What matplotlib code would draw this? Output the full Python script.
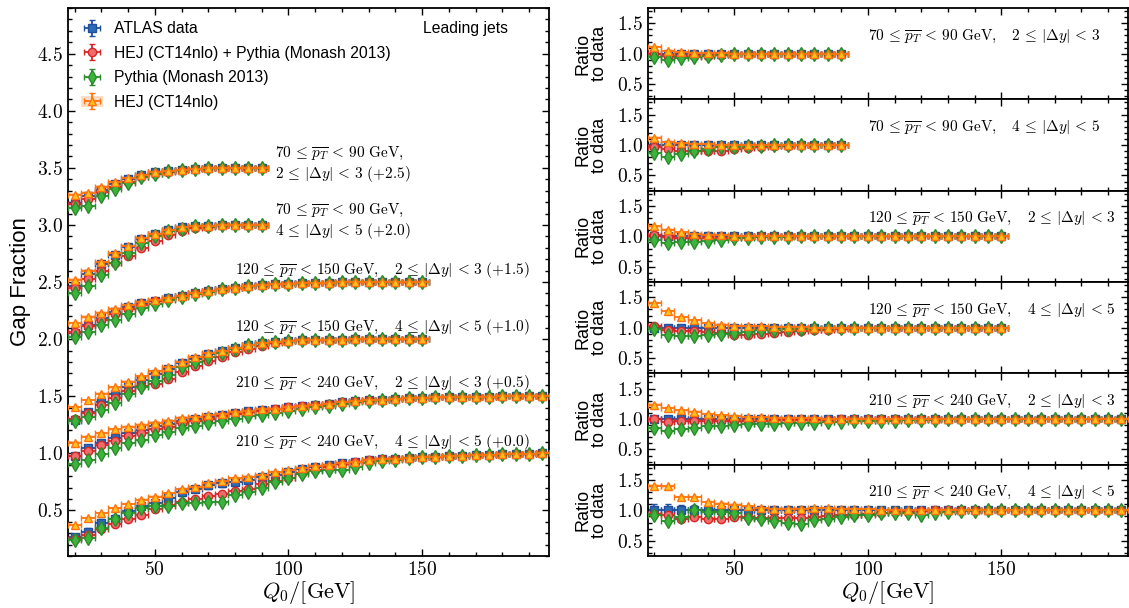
import numpy as np
import matplotlib.pyplot as plt
from matplotlib.ticker import MultipleLocator, FuncFormatter
from matplotlib.patches import Patch

plt.rcParams['font.family'] = ['Liberation Sans', 'DejaVu Sans']
plt.rcParams['mathtext.fontset'] = 'cm'

# Q0 bin centres (bins are 5 GeV wide)
q0_bins = [20, 25, 30, 35, 40, 45, 50, 55, 60, 65, 70, 75, 80, 85, 90, 95, 100, 105,
           110, 115, 120, 125, 130, 135, 140, 145, 150, 155, 160, 165, 170, 175, 180,
           185, 190, 195]

# region 1: 70-90 GeV, 2<|dy|<3 (+2.5)
gf1 = [0.69, 0.75, 0.81, 0.86, 0.90, 0.935, 0.96, 0.975, 0.985, 0.99, 0.995, 0.997, 0.998, 0.999, 1.0]
err1 = [0.03, 0.025, 0.02, 0.02, 0.015, 0.015, 0.01, 0.01, 0.01, 0.01, 0.005, 0.005, 0.005, 0.005, 0.005]
hejpy1 = [0.99, 0.97, 0.97, 0.97, 0.97, 0.98, 0.99, 0.99, 1.0, 1.0, 1.0, 1.0, 1.0, 1.0, 1.0]
py1 = [0.945, 0.89, 0.93, 0.945, 0.965, 0.98, 0.99, 0.995, 1.0, 1.0, 1.0, 1.0, 1.0, 1.0, 1.0]
hej1 = [1.11, 1.045, 1.03, 1.015, 1.01, 1.005, 1.0, 1.0, 1.0, 1.0, 1.0, 1.0, 1.0, 1.0, 1.0]

# region 2: 70-90 GeV, 4<|dy|<5 (+2.0)
gf2 = [0.465, 0.57, 0.655, 0.737, 0.81, 0.88, 0.925, 0.96, 0.978, 0.99, 0.995, 0.997, 0.998, 0.999, 1.0]
err2 = [0.05, 0.04, 0.03, 0.025, 0.02, 0.015, 0.015, 0.01, 0.01, 0.01, 0.005, 0.005, 0.005, 0.005, 0.005]
hejpy2 = [0.96, 0.93, 0.91, 0.90, 0.90, 0.91, 0.93, 0.95, 0.97, 0.98, 0.99, 1.0, 1.0, 1.0, 1.0]
py2 = [0.87, 0.81, 0.86, 0.90, 0.93, 0.96, 0.975, 0.985, 0.99, 1.0, 1.0, 1.0, 1.0, 1.0, 1.0]
hej2 = [1.12, 1.05, 1.03, 1.02, 1.01, 1.005, 1.0, 1.0, 1.0, 1.0, 1.0, 1.0, 1.0, 1.0, 1.0]

# region 3: 120-150 GeV, 2<|dy|<3 (+1.5)
gf3 = [0.55, 0.625, 0.685, 0.735, 0.78, 0.813, 0.838, 0.857, 0.88, 0.90, 0.918, 0.935, 0.952, 0.964,
       0.975, 0.982, 0.987, 0.99, 0.993, 0.995, 0.996, 0.997, 0.998, 0.999, 0.999, 1.0, 1.0]
err3 = [0.04, 0.03, 0.03, 0.02, 0.02, 0.015, 0.015, 0.01, 0.01, 0.01, 0.01, 0.01, 0.005, 0.005,
        0.005, 0.005, 0.005, 0.005, 0.005, 0.005, 0.005, 0.005, 0.005, 0.005, 0.005, 0.005, 0.005]
hejpy3 = [1.03, 0.99, 0.98, 0.98, 0.98, 0.98, 0.99, 0.99, 1.0, 1.0, 1.0, 1.0, 1.0, 1.0,
          1.0, 1.0, 1.0, 1.0, 1.0, 1.0, 1.0, 1.0, 1.0, 1.0, 1.0, 1.0, 1.0]
py3 = [0.945, 0.895, 0.906, 0.912, 0.923, 0.945, 0.967, 0.978, 0.985, 0.99, 0.995, 1.0, 1.0, 1.0,
       1.0, 1.0, 1.0, 1.0, 1.0, 1.0, 1.0, 1.0, 1.0, 1.0, 1.0, 1.0, 1.0]
hej3 = [1.165, 1.11, 1.066, 1.044, 1.027, 1.016, 1.01, 1.005, 1.0, 1.0, 1.0, 1.0, 1.0, 1.0,
        1.0, 1.0, 1.0, 1.0, 1.0, 1.0, 1.0, 1.0, 1.0, 1.0, 1.0, 1.0, 1.0]

# region 4: 120-150 GeV, 4<|dy|<5 (+1.0)
gf4 = [0.29, 0.365, 0.445, 0.515, 0.583, 0.642, 0.694, 0.74, 0.788, 0.828, 0.866, 0.895, 0.925, 0.946,
       0.963, 0.974, 0.982, 0.988, 0.991, 0.994, 0.996, 0.997, 0.998, 0.999, 0.999, 1.0, 1.0]
err4 = [0.05, 0.04, 0.035, 0.03, 0.025, 0.02, 0.02, 0.015, 0.015, 0.01, 0.01, 0.01, 0.01, 0.005,
        0.005, 0.005, 0.005, 0.005, 0.005, 0.005, 0.005, 0.005, 0.005, 0.005, 0.005, 0.005, 0.005]
hejpy4 = [1.03, 0.97, 0.95, 0.94, 0.93, 0.92, 0.875, 0.88, 0.90, 0.92, 0.93, 0.94, 0.96, 0.97,
          0.98, 0.99, 1.0, 1.0, 1.0, 1.0, 1.0, 1.0, 1.0, 1.0, 1.0, 1.0, 1.0]
py4 = [0.98, 0.875, 0.86, 0.86, 0.885, 0.90, 0.91, 0.93, 0.955, 0.965, 0.975, 0.98, 0.99, 1.0,
       1.0, 1.0, 1.0, 1.0, 1.0, 1.0, 1.0, 1.0, 1.0, 1.0, 1.0, 1.0, 1.0]
hej4 = [1.41, 1.275, 1.176, 1.12, 1.077, 1.05, 1.033, 1.027, 1.02, 1.016, 1.01, 1.005, 1.0, 1.0,
        1.0, 1.0, 1.0, 1.0, 1.0, 1.0, 1.0, 1.0, 1.0, 1.0, 1.0, 1.0, 1.0]

# region 5: 210-240 GeV, 2<|dy|<3 (+0.5)
gf5 = [0.48, 0.545, 0.592, 0.633, 0.675, 0.705, 0.735, 0.757, 0.785, 0.80, 0.82, 0.836, 0.852, 0.866,
       0.879, 0.89, 0.905, 0.915, 0.926, 0.935, 0.946, 0.955, 0.963, 0.97, 0.976, 0.981, 0.985, 0.989,
       0.992, 0.994, 0.996, 0.997, 0.998, 0.999, 1.0, 1.0]
err5 = [0.04, 0.035, 0.03, 0.03, 0.025, 0.02, 0.02, 0.02, 0.015, 0.015, 0.015, 0.01, 0.01, 0.01,
        0.01, 0.01, 0.01, 0.01, 0.005, 0.005, 0.005, 0.005, 0.005, 0.005, 0.005, 0.005, 0.005, 0.005,
        0.005, 0.005, 0.005, 0.005, 0.005, 0.005, 0.005, 0.005]
hejpy5 = [1.0, 0.95, 0.96, 0.96, 0.96, 0.96, 0.97, 0.97, 0.975, 0.98, 0.98, 0.985, 0.99, 0.99,
          0.995, 1.0, 1.0, 1.0, 1.0, 1.0, 1.0, 1.0, 1.0, 1.0, 1.0, 1.0, 1.0, 1.0,
          1.0, 1.0, 1.0, 1.0, 1.0, 1.0, 1.0, 1.0]
py5 = [0.85, 0.81, 0.84, 0.86, 0.88, 0.88, 0.90, 0.91, 0.92, 0.92, 0.93, 0.935, 0.94, 0.95,
       0.955, 0.96, 0.965, 0.97, 0.975, 0.98, 0.985, 0.99, 0.995, 1.0, 1.0, 1.0, 1.0, 1.0,
       1.0, 1.0, 1.0, 1.0, 1.0, 1.0, 1.0, 1.0]
hej5 = [1.237, 1.18, 1.143, 1.12, 1.083, 1.06, 1.044, 1.033, 1.027, 1.022, 1.016, 1.012, 1.01, 1.005,
        1.005, 1.0, 1.0, 1.0, 1.0, 1.0, 1.0, 1.0, 1.0, 1.0, 1.0, 1.0, 1.0, 1.0,
        1.0, 1.0, 1.0, 1.0, 1.0, 1.0, 1.0, 1.0]

# region 6: 210-240 GeV, 4<|dy|<5 (+0.0)
gf6 = [0.265, 0.312, 0.39, 0.425, 0.49, 0.535, 0.567, 0.61, 0.658, 0.688, 0.718, 0.738, 0.75, 0.765,
       0.79, 0.81, 0.838, 0.86, 0.88, 0.9, 0.915, 0.925, 0.94, 0.947, 0.953, 0.96, 0.965, 0.97,
       0.975, 0.98, 0.983, 0.986, 0.99, 0.993, 0.996, 0.998]
err6 = [0.10, 0.10, 0.09, 0.09, 0.08, 0.07, 0.06, 0.05, 0.05, 0.04, 0.04, 0.04, 0.03, 0.03,
        0.03, 0.03, 0.02, 0.02, 0.02, 0.02, 0.015, 0.015, 0.01, 0.01, 0.01, 0.01, 0.01, 0.01,
        0.005, 0.005, 0.005, 0.005, 0.005, 0.005, 0.005, 0.005]
hejpy6 = [0.94, 0.92, 0.86, 0.89, 0.865, 0.855, 0.895, 0.895, 0.87, 0.875, 0.875, 0.875, 0.89, 0.9,
          0.92, 0.93, 0.94, 0.96, 0.97, 0.98, 0.99, 1.0, 1.0, 1.0, 1.0, 1.0, 1.0, 1.0,
          1.0, 1.0, 1.0, 1.0, 1.0, 1.0, 1.0, 1.0]
py6 = [0.92, 0.83, 0.89, 1.0, 0.98, 0.975, 0.955, 0.875, 0.855, 0.82, 0.80, 0.78, 0.845, 0.86,
       0.885, 0.92, 0.93, 0.955, 0.96, 0.95, 0.93, 0.95, 0.97, 0.985, 0.99, 1.0, 1.0, 1.0,
       1.0, 1.0, 1.0, 1.0, 1.0, 1.0, 1.0, 1.0]
hej6 = [1.405, 1.395, 1.22, 1.22, 1.137, 1.11, 1.094, 1.066, 1.04, 1.027, 1.027, 1.027, 1.04, 1.04,
        1.027, 1.027, 1.015, 1.01, 1.005, 1.0, 1.0, 1.0, 1.0, 1.0, 1.0, 1.0, 1.0, 1.0,
        1.0, 1.0, 1.0, 1.0, 1.0, 1.0, 1.0, 1.0]

pt_labels = [r"70 \,\leq\, \overline{p_T} \,<\, 90\ \mathrm{GeV}", r"70 \,\leq\, \overline{p_T} \,<\, 90\ \mathrm{GeV}",
             r"120 \,\leq\, \overline{p_T} \,<\, 150\ \mathrm{GeV}", r"120 \,\leq\, \overline{p_T} \,<\, 150\ \mathrm{GeV}",
             r"210 \,\leq\, \overline{p_T} \,<\, 240\ \mathrm{GeV}", r"210 \,\leq\, \overline{p_T} \,<\, 240\ \mathrm{GeV}"]
dy_labels = [r"2 \,\leq\, |\Delta y| \,<\, 3", r"4 \,\leq\, |\Delta y| \,<\, 5"] * 3
offsets = [2.5, 2.0, 1.5, 1.0, 0.5, 0.0]

regions = [(gf1, err1, hejpy1, py1, hej1), (gf2, err2, hejpy2, py2, hej2),
           (gf3, err3, hejpy3, py3, hej3), (gf4, err4, hejpy4, py4, hej4),
           (gf5, err5, hejpy5, py5, hej5), (gf6, err6, hejpy6, py6, hej6)]

labels = ["ATLAS data", "HEJ (CT14nlo) + Pythia (Monash 2013)", "Pythia (Monash 2013)", "HEJ (CT14nlo)"]
styles = [dict(fmt='s', color='#1d4f9c', mfc='#2c6bb5', mec='#1d4f9c', ms=5.5),
          dict(fmt='o', color='#d62728', mfc='#f26b6b', mec='#d62728', ms=6),
          dict(fmt='d', color='#2b8a2b', mfc='#3cb43c', mec='#2b8a2b', ms=7),
          dict(fmt='^', color='#ff7410', mfc='#ffc21a', mec='#ff7410', ms=6)]
mc_err = 0.01
TXT = 11


def fmt_tick(v, pos):
    return r"$%g$" % v


def fmt_tick1(v, pos):
    return r"$%.1f$" % v


def style_axis(ax, ymaj, ymin):
    ax.set_xlim(17.5, 197.5)
    ax.xaxis.set_major_locator(MultipleLocator(50))
    ax.xaxis.set_minor_locator(MultipleLocator(10))
    ax.yaxis.set_major_locator(MultipleLocator(ymaj))
    ax.yaxis.set_minor_locator(MultipleLocator(ymin))
    ax.xaxis.set_major_formatter(FuncFormatter(fmt_tick))
    ax.yaxis.set_major_formatter(FuncFormatter(fmt_tick1))
    ax.tick_params(which='both', direction='in', top=True, right=True, labelsize=14, width=1.0)
    ax.tick_params(which='major', length=5)
    ax.tick_params(which='minor', length=3)
    for s in ax.spines.values():
        s.set_linewidth(1.3)


def draw_set(ax, x, ys, errs, offset):
    handles = []
    for i, (y, e) in enumerate(zip(ys, errs)):
        st = styles[i]
        if i == 3:
            edges = np.append(x - 2.5, x[-1] + 2.5)
            lo = np.append(y - 2 * e, (y - 2 * e)[-1]) + offset
            hi = np.append(y + 2 * e, (y + 2 * e)[-1]) + offset
            ax.fill_between(edges, lo, hi, step='post', color='#ffb27a', alpha=0.45, lw=0, zorder=1)
        h = ax.errorbar(x, y + offset, xerr=2.5, yerr=e, fmt=st['fmt'], color=st['color'],
                        mfc=st['mfc'], mec=st['mec'], ms=st['ms'], mew=1.0, elinewidth=1.3,
                        capsize=2.5, capthick=1.3, zorder=2 + i)
        handles.append(h)
    return handles


fig = plt.figure(figsize=(11.29, 6.08), dpi=100)
ax = fig.add_axes([0.0602, 0.0855, 0.4261, 0.9013])
style_axis(ax, 0.5, 0.1)
ax.set_ylim(0.1, 4.9)

ratio_axes = []
h_each = 0.9013 / 6
for k in range(6):
    rax = fig.add_axes([0.5737, 0.0855 + (5 - k) * h_each, 0.4254, h_each])
    style_axis(rax, 0.5, 0.1)
    rax.set_ylim(0.25, 1.75)
    rax.set_ylabel("Ratio\nto data", fontsize=13, linespacing=1.0, labelpad=6)
    if k < 5:
        rax.tick_params(labelbottom=False)
    ratio_axes.append(rax)

handles = None
for k, (gf, err, hejpy, py, hej) in enumerate(regions):
    n = len(gf)
    x = np.array(q0_bins[:n], dtype=float)
    data = np.array(gf)
    derr = np.array(err) * data
    models = [np.array(hejpy) * data, np.array(py) * data, np.array(hej) * data]
    ys = [data] + models
    errs = [derr] + [np.full(n, mc_err) * m for m in models]
    h = draw_set(ax, x, ys, errs, offsets[k])
    if handles is None:
        handles = h
    # ratio panel
    rys = [np.ones(n), np.array(hejpy), np.array(py), np.array(hej)]
    rerrs = [np.array(err)] + [np.full(n, mc_err) for _ in range(3)]
    draw_set(ratio_axes[k], x, rys, rerrs, 0.0)
    ratio_axes[k].text(100, 1.29, "$" + pt_labels[k] + r",\quad " + dy_labels[k] + "$",
                       fontsize=TXT, ha='left', va='center')

# labels in main panel
ax.text(95, 3.53, "$" + pt_labels[0] + ",$\n$" + dy_labels[0] + r"\ (+2.5)$",
        fontsize=TXT, ha='left', va='center', linespacing=1.15)
ax.text(95, 3.03, "$" + pt_labels[1] + ",$\n$" + dy_labels[1] + r"\ (+2.0)$",
        fontsize=TXT, ha='left', va='center', linespacing=1.15)
label_y = [2.605, 2.108, 1.615, 1.10]
for k in range(2, 6):
    ax.text(80, label_y[k - 2], "$" + pt_labels[k] + r",\quad " + dy_labels[k] + r"\ (+%.1f)$" % offsets[k],
            fontsize=TXT, ha='left', va='center')

ax.text(0.915, 0.963, "Leading jets", transform=ax.transAxes, fontsize=11.3, ha='right', va='center')
ax.set_ylabel("Gap Fraction", fontsize=16)
ax.set_xlabel(r"$Q_0/[\mathrm{GeV}]$", fontsize=16, labelpad=0)
ratio_axes[-1].set_xlabel(r"$Q_0/[\mathrm{GeV}]$", fontsize=16, labelpad=0)

band = Patch(facecolor='#ffb27a', alpha=0.45, lw=0)
leg_handles = [handles[0], handles[1], handles[2], (band, handles[3])]
ax.legend(leg_handles, labels, loc='upper left', frameon=False, fontsize=11.3,
          handlelength=1.4, handletextpad=0.7, labelspacing=0.6, borderaxespad=0.45)

fig.savefig("out.png", dpi=100)
